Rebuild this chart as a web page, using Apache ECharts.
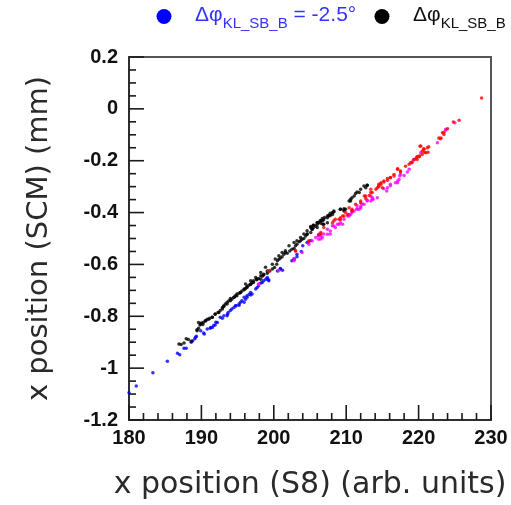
<!DOCTYPE html>
<html>
<head>
<meta charset="utf-8">
<script src="https://cdn.jsdelivr.net/npm/echarts@6/dist/echarts.min.js"></script>
<style>
  html, body { margin: 0; padding: 0; background: #fff; }
  #chart { width: 511px; height: 505px; }
</style>
</head>
<body>
<div id="chart"></div>
<script>
// Beam position correlation: S8 position vs. SCM position, four phase settings.
const xRange = [180, 230];
const yRange = [-1.2, 0.2];

// tick positions (major ticks carry labels)
const xMajorTicks = [180, 190, 200, 210, 220, 230];
const xMinorTicks = [182, 184, 186, 188, 192, 194, 196, 198, 202, 204, 206, 208,
                     212, 214, 216, 218, 222, 224, 226, 228];
const yMajorTicks = [-1.2, -1.0, -0.8, -0.6, -0.4, -0.2, 0, 0.2];
const yMinorTicks = [-1.15, -1.1, -1.05, -0.95, -0.9, -0.85, -0.75, -0.7, -0.65,
                     -0.55, -0.5, -0.45, -0.35, -0.3, -0.25, -0.15, -0.1, -0.05,
                     0.05, 0.1, 0.15];

const blueData = [
  [180.0,-1.095],[181.0,-1.069],[183.3,-1.018],[185.3,-0.973],[186.7,-0.943],[187.0,-0.948],
  [187.6,-0.923],[187.9,-0.923],[188.6,-0.900],[188.8,-0.894],[189.1,-0.887],[189.2,-0.881],
  [189.3,-0.877],[189.9,-0.856],[190.3,-0.864],[190.4,-0.868],[190.8,-0.849],[191.2,-0.846],
  [191.3,-0.843],[191.5,-0.843],[191.7,-0.836],[191.9,-0.834],[192.0,-0.823],[192.2,-0.824],
  [192.6,-0.804],[192.9,-0.808],[193.1,-0.798],[193.55,-0.798],[193.6,-0.792],[193.7,-0.785],
  [194.0,-0.778],[194.2,-0.772],[194.5,-0.766],[194.7,-0.759],[194.8,-0.759],[195.2,-0.757],
  [195.2,-0.753],[195.4,-0.746],[195.6,-0.740],[195.9,-0.746],[195.9,-0.727],[196.1,-0.734],
  [196.3,-0.727],[196.3,-0.721],[196.6,-0.715],[196.8,-0.718],[196.8,-0.708],[197.0,-0.714],
  [197.5,-0.695],[197.7,-0.689],[197.9,-0.682],[198.2,-0.672],[198.4,-0.670],[198.6,-0.663],
  [198.9,-0.657],[199.1,-0.650],[199.1,-0.656],[199.3,-0.659],[199.3,-0.663],[200.5,-0.625],
  [200.9,-0.616],[200.9,-0.618],[201.2,-0.622],[202.5,-0.586],[202.8,-0.580],[202.8,-0.579],
  [203.2,-0.561],[203.2,-0.570],[203.8,-0.550],[204.0,-0.528],[204.6,-0.515],[205.1,-0.509],
  [206.2,-0.487]
];

const blackData = [
  [186.9,-0.907],[187.2,-0.909],[187.6,-0.903],[187.9,-0.887],[188.2,-0.890],[188.6,-0.896],
  [189.4,-0.852],[189.4,-0.856],[189.6,-0.846],[189.6,-0.824],[189.8,-0.834],[189.9,-0.830],
  [190.0,-0.826],[190.2,-0.832],[190.3,-0.823],[190.55,-0.817],[190.6,-0.817],[190.8,-0.811],
  [191.0,-0.811],[191.15,-0.808],[191.5,-0.804],[191.5,-0.804],[191.9,-0.791],[191.9,-0.792],
  [192.3,-0.785],[192.4,-0.785],[192.6,-0.778],[192.9,-0.766],[192.9,-0.772],[193.1,-0.762],
  [193.1,-0.759],[193.3,-0.753],[193.55,-0.746],[193.55,-0.753],[193.8,-0.740],[194.0,-0.731],
  [194.0,-0.740],[194.2,-0.734],[194.5,-0.727],[194.5,-0.727],[194.7,-0.721],[194.9,-0.714],
  [194.9,-0.721],[195.2,-0.711],[195.4,-0.708],[195.4,-0.708],[195.6,-0.702],[195.9,-0.695],
  [195.9,-0.698],[196.1,-0.693],[196.1,-0.675],[196.3,-0.685],[196.3,-0.689],[196.55,-0.680],
  [196.8,-0.676],[196.8,-0.676],[196.8,-0.663],[197.0,-0.670],[197.2,-0.663],[197.2,-0.670],
  [197.5,-0.650],[197.6,-0.659],[197.7,-0.657],[197.9,-0.654],[198.2,-0.657],[198.2,-0.644],
  [198.2,-0.631],[198.4,-0.646],[198.6,-0.641],[198.6,-0.638],[198.85,-0.611],[199.1,-0.634],
  [199.1,-0.625],[199.45,-0.625],[199.8,-0.618],[199.8,-0.599],[200.1,-0.612],[200.2,-0.579],
  [200.4,-0.599],[200.5,-0.586],[200.7,-0.580],[200.7,-0.567],[200.9,-0.575],[201.15,-0.570],
  [201.15,-0.554],[201.4,-0.561],[201.6,-0.554],[201.6,-0.547],[201.85,-0.557],[202.1,-0.528],
  [202.2,-0.548],[202.5,-0.541],[202.8,-0.539],[202.8,-0.515],[203.0,-0.528],[203.2,-0.522],
  [203.2,-0.509],[203.5,-0.513],[203.7,-0.509],[203.7,-0.496],[203.9,-0.503],[204.15,-0.500],
  [204.15,-0.483],[204.4,-0.490],[204.6,-0.484],[204.6,-0.470],[204.6,-0.483],[205.1,-0.477],
  [205.1,-0.458],[205.1,-0.454],[205.3,-0.464],[205.3,-0.464],[205.45,-0.449],[205.5,-0.449],
  [205.5,-0.458],[205.8,-0.452],[206.0,-0.445],[206.0,-0.439],[206.0,-0.438],[206.0,-0.458],
  [206.2,-0.439],[206.4,-0.432],[206.5,-0.441],[206.5,-0.432],[206.7,-0.432],[206.7,-0.423],
  [206.8,-0.445],[206.9,-0.428],[206.9,-0.445],[207.0,-0.419],[207.4,-0.420],[207.4,-0.413],
  [207.4,-0.439],[207.6,-0.413],[207.6,-0.410],[207.8,-0.411],[207.8,-0.403],[208.1,-0.407],
  [208.1,-0.400],[208.3,-0.394],[208.3,-0.398],[209.2,-0.387],[209.2,-0.387],[209.7,-0.390],
  [209.7,-0.385],[209.7,-0.394],[209.9,-0.387],[210.4,-0.355],[210.6,-0.355],[210.6,-0.349],
  [210.8,-0.343],[211.1,-0.336],[211.3,-0.326],[211.5,-0.321],[211.8,-0.323],[212.0,-0.310],
  [212.45,-0.298],[212.7,-0.304],[212.9,-0.295],[212.9,-0.295]
];

const redData = [
  [228.7,0.042],[225.6,-0.044],[224.8,-0.051],[224.0,-0.077],[223.5,-0.090],[223.5,-0.099],
  [223.3,-0.092],[223.1,-0.112],[223.0,-0.115],[222.8,-0.112],[221.4,-0.146],[221.2,-0.150],
  [221.3,-0.167],[221.0,-0.169],[220.8,-0.167],[220.75,-0.156],[220.7,-0.154],[220.5,-0.176],
  [220.5,-0.163],[220.3,-0.143],[220.2,-0.144],[220.1,-0.182],[220.1,-0.185],[219.8,-0.184],
  [219.8,-0.195],[219.7,-0.189],[219.4,-0.195],[219.1,-0.205],[218.9,-0.208],[218.7,-0.214],
  [218.2,-0.221],[217.5,-0.240],[217.5,-0.244],[217.1,-0.231],[217.1,-0.233],[216.6,-0.259],
  [216.6,-0.253],[216.1,-0.266],[216.1,-0.265],[215.7,-0.275],[215.7,-0.269],[215.2,-0.282],
  [215.2,-0.278],[215.0,-0.304],[214.8,-0.291],[214.8,-0.285],[214.5,-0.300],[214.5,-0.297],
  [214.5,-0.291],[214.3,-0.304],[214.1,-0.310],[213.6,-0.323],[213.4,-0.310],[213.4,-0.323],
  [213.2,-0.334],[212.7,-0.346],[212.7,-0.336],[212.5,-0.336],[212.0,-0.362],[212.0,-0.355],
  [211.3,-0.368],[210.8,-0.394],[210.8,-0.387],[210.4,-0.381],[210.2,-0.407],[209.9,-0.400],
  [209.7,-0.413],[209.5,-0.413],[209.2,-0.420],[209.2,-0.428],[209.0,-0.426],[208.5,-0.426],
  [208.3,-0.432],[208.1,-0.439],[206.9,-0.458],[206.5,-0.477],[206.5,-0.483],[206.2,-0.484],
  [204.85,-0.509],[204.8,-0.513],[203.0,-0.548],[203.0,-0.547],[199.3,-0.625],[199.3,-0.624]
];

const magentaData = [
  [225.0,-0.054],[223.75,-0.082],[223.75,-0.079],[222.6,-0.131],[220.3,-0.169],[219.4,-0.195],
  [219.3,-0.195],[219.1,-0.208],[218.7,-0.233],[218.45,-0.244],[218.0,-0.257],[217.5,-0.253],
  [217.4,-0.259],[217.3,-0.272],[217.1,-0.278],[217.1,-0.285],[216.8,-0.285],[216.1,-0.291],
  [216.1,-0.297],[215.7,-0.304],[215.6,-0.317],[215.2,-0.308],[214.3,-0.343],[213.7,-0.349],
  [213.6,-0.342],[213.6,-0.349],[213.4,-0.355],[213.4,-0.336],[212.9,-0.352],[212.9,-0.355],
  [212.45,-0.368],[212.2,-0.368],[212.0,-0.377],[212.0,-0.381],[211.8,-0.387],[211.5,-0.385],
  [211.5,-0.374],[211.5,-0.387],[211.1,-0.394],[210.8,-0.394],[210.8,-0.400],[210.6,-0.407],
  [210.4,-0.413],[210.4,-0.407],[210.2,-0.413],[209.7,-0.426],[209.5,-0.445],[209.2,-0.439],
  [209.0,-0.445],[208.8,-0.445],[208.5,-0.458],[208.3,-0.452],[208.1,-0.451],[207.8,-0.471],
  [207.8,-0.483],[207.4,-0.484],[207.4,-0.464],[206.9,-0.483],[206.7,-0.496],[206.5,-0.490],
  [206.5,-0.502],[206.2,-0.503],[206.2,-0.490],[205.8,-0.496],[205.3,-0.509],[204.85,-0.522],
  [203.9,-0.554],[202.8,-0.577],[202.8,-0.586],[200.7,-0.624],[197.9,-0.675],[197.9,-0.676]
];

const legendEntries = [
  { main: 'Δφ', sub: 'KL_SB_B', tail: ' = -2.5°', dot: '#0000ff', text: '#3333ff' },
  { main: 'Δφ', sub: 'KL_SB_B', tail: '', dot: '#000000', text: '#111111' }
];

const chart = echarts.init(document.getElementById('chart'), null, { renderer: 'canvas' });

function scatter(name, data, color) {
  return {
    name, type: 'scatter', data,
    symbol: 'circle', symbolSize: 3.5,
    itemStyle: { color },
    animation: false, z: 3
  };
}

// inward tick marks placed through the cartesian scales
const MAJOR_LEN = 15, MINOR_LEN = 7;
function tickSeries(axis) {
  const data = [];
  if (axis === 'x') {
    xMajorTicks.forEach(v => data.push([v, yRange[0], 1]));
    xMinorTicks.forEach(v => data.push([v, yRange[0], 0]));
  } else {
    yMajorTicks.forEach(v => data.push([xRange[0], v, 1]));
    yMinorTicks.forEach(v => data.push([xRange[0], v, 0]));
  }
  return {
    type: 'custom', name: axis + ' ticks', data, silent: true, clip: false,
    animation: false, z: 4,
    renderItem: (params, api) => {
      const p = api.coord([api.value(0), api.value(1)]);
      const len = api.value(2) ? MAJOR_LEN : MINOR_LEN;
      const shape = axis === 'x'
        ? { x1: p[0], y1: p[1], x2: p[0], y2: p[1] - len }
        : { x1: p[0], y1: p[1], x2: p[0] + len, y2: p[1] };
      return { type: 'line', shape, style: { stroke: '#1a1a1a', lineWidth: 1.6 } };
    }
  };
}

const labelFont = '"Liberation Sans", Arial, sans-serif';
function titleStyle(size) {
  return { fontFamily: '"DejaVu Sans", sans-serif', fontWeight: 'normal', fontSize: size, color: '#2a2a2a' };
}

// legend drawn as graphic: dot, symbol, subscript, suffix
const legendGraphics = [];
const legendX = [164, 382];
legendEntries.forEach((e, i) => {
  const x0 = legendX[i];
  legendGraphics.push({
    type: 'circle', shape: { cx: x0, cy: 16.5, r: 7.5 },
    style: { fill: e.dot }, silent: true
  });
  legendGraphics.push({
    type: 'text', left: x0 + 31, top: 5,
    style: {
      text: '{m|' + e.main + '}{s|' + e.sub + '}' + (e.tail ? '{m|' + e.tail + '}' : ''),
      rich: {
        m: { fontFamily: labelFont, fontSize: 21, fill: e.text, verticalAlign: 'top', lineHeight: 23 },
        s: { fontFamily: labelFont, fontSize: 15, fill: e.text, verticalAlign: 'top', padding: [11, 0, 0, 0], lineHeight: 27 }
      }
    },
    silent: true
  });
});

chart.setOption({
  backgroundColor: '#ffffff',
  animation: false,
  grid: {
    left: 129, top: 57, right: 20, bottom: 84,
    show: true, borderColor: '#555', borderWidth: 2
  },
  xAxis: {
    type: 'value', min: xRange[0], max: xRange[1], interval: 10,
    name: 'x position (S8) (arb. units)', nameLocation: 'middle', nameGap: 50,
    nameTextStyle: titleStyle(30),
    axisLine: { show: true, onZero: false, lineStyle: { color: '#222', width: 1.5 } },
    axisTick: { show: false },
    minorTick: { show: false },
    axisLabel: { margin: 8, fontFamily: labelFont, fontWeight: 'bold', fontSize: 20, color: '#111' },
    splitLine: { show: false }
  },
  yAxis: {
    type: 'value', min: yRange[0], max: yRange[1], interval: 0.2,
    name: 'x position (SCM) (mm)', nameLocation: 'middle', nameGap: 75,
    nameTextStyle: titleStyle(29),
    axisLine: { show: true, onZero: false, lineStyle: { color: '#222', width: 1.5 } },
    axisTick: { show: false },
    minorTick: { show: false },
    axisLabel: {
      margin: 11, fontFamily: labelFont, fontWeight: 'bold', fontSize: 20, color: '#111',
      formatter: v => String(Math.round(v * 10) / 10)
    },
    splitLine: { show: false }
  },
  graphic: legendGraphics,
  series: [
    scatter('blue', blueData, '#0000ff'),
    scatter('black', blackData, '#000000'),
    scatter('magenta', magentaData, '#ff00ff'),
    scatter('red', redData, '#ff0000'),
    tickSeries('x'),
    tickSeries('y')
  ]
});
</script>
</body>
</html>
